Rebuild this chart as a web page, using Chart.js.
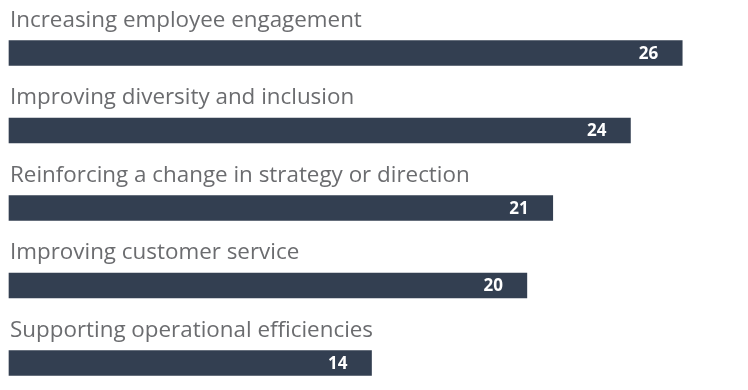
<!DOCTYPE html>
<html>
<head>
<meta charset="utf-8">
<script src="https://cdn.jsdelivr.net/npm/chart.js@4.4.0/dist/chart.umd.min.js"></script>
<style>
  body { margin: 0; background: #fff; }
  #wrap { width: 748px; height: 390px; position: relative; }
</style>
</head>
<body>
<div id="wrap"><canvas id="barChart"></canvas></div>
<script>
const categories = [
  'Increasing employee engagement',
  'Improving diversity and inclusion',
  'Reinforcing a change in strategy or direction',
  'Improving customer service',
  'Supporting operational efficiencies'
];
const values = [26, 24, 21, 20, 14];

const ctx1 = document.getElementById('barChart');

// labels above each bar + value inside the bar end
const barLabels = {
  id: 'barLabels',
  afterDatasetsDraw(chart) {
    const c = chart.ctx;
    const meta = chart.getDatasetMeta(0);
    meta.data.forEach(function(bar, i) {
      const top = bar.y - bar.height / 2;
      c.save();
      c.fillStyle = '#6b6c6f';
      c.font = '22.4px "Open Sans"';
      c.textAlign = 'left';
      c.textBaseline = 'alphabetic';
      c.fillText(categories[i], 10, top - 14);
      c.fillStyle = '#ffffff';
      c.font = 'bold 17px "Open Sans"';
      c.textAlign = 'right';
      c.textBaseline = 'middle';
      c.fillText(String(values[i]), bar.x - 24, bar.y + 1);
      c.restore();
    });
  }
};

new Chart(ctx1, {
  type: 'bar',
  data: {
    labels: categories,
    datasets: [{
      data: values,
      backgroundColor: '#333f51',
      barThickness: 25,
      clip: false
    }]
  },
  options: {
    indexAxis: 'y',
    responsive: true,
    maintainAspectRatio: false,
    animation: false,
    layout: { padding: { left: 9, right: 14, top: 53, bottom: 27 } },
    plugins: {
      legend: { display: false },
      tooltip: { enabled: false }
    },
    scales: {
      x: { min: 0, max: 28, display: false },
      y: { display: false, offset: false }
    }
  },
  plugins: [barLabels]
});
</script>
</body>
</html>
